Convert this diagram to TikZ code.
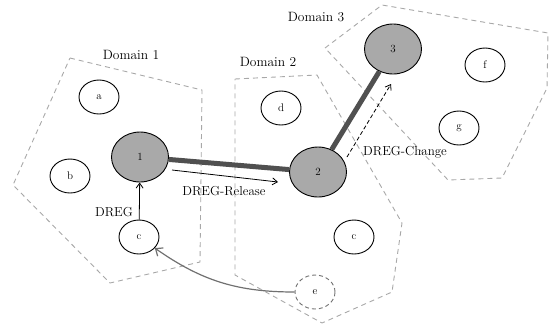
\documentclass[tikz,border=0pt]{standalone}
\usetikzlibrary{shapes.geometric,arrows.meta,calc}
\definecolor{domcol}{HTML}{A8A8A8}
\definecolor{nodefill}{HTML}{A9A9A9}
\definecolor{linkcol}{HTML}{505050}
\definecolor{movecol}{HTML}{707070}
\tikzset{
  domainedge/.style={draw=domcol, line width=0.9pt, dash pattern=on 5pt off 4pt, line join=round},
  domlabel/.style={font=\fontsize{13.5}{15}\selectfont, inner sep=0pt},
  hostnode/.style={ellipse, draw, line width=0.9pt, minimum width=40pt, minimum height=34pt, inner sep=0pt, font=\fontsize{11}{13}\selectfont},
  routernode/.style={ellipse, draw, fill=nodefill, line width=0.9pt, minimum width=57pt, minimum height=50pt, inner sep=0pt, font=\fontsize{11}{13}\selectfont},
  ghostnode/.style={hostnode, draw=movecol, dash pattern=on 4pt off 3pt},
  backbone/.style={draw=linkcol, line width=5pt},
  msgarrow/.style={-{Straight Barb[length=5pt,width=7pt]}, line width=0.8pt},
  msglabel/.style={font=\fontsize{13}{15}\selectfont, inner sep=0pt},
}
\begin{document}
\begin{tikzpicture}[x=1pt, y=-1pt]
\useasboundingbox (0,0) rectangle (553,325);

% administrative domains
\draw[domainedge] (70,58) -- (202,90) -- (200,262) -- (110,283) -- (13,185) -- cycle;
\draw[domainedge] (235,79) -- (317,75) -- (402,223) -- (392,292) -- (322,323) -- (235,275) -- cycle;
\draw[domainedge] (325,48) -- (382,5) -- (548,33) -- (547,88) -- (502,178) -- (448,180) -- cycle;

\node[domlabel] (d1) at (131,55) {Domain 1};
\node[domlabel] (d2) at (268,62) {Domain 2};
\node[domlabel] (d3) at (316,17) {Domain 3};

% routers
\node[routernode] (n1) at (140,157) {1};
\node[routernode] (n2) at (318,172) {2};
\node[routernode] (n3) at (393,49) {3};

% hosts
\node[hostnode] (a) at (99,97) {a};
\node[hostnode] (b) at (70,176) {b};
\node[hostnode] (c1) at (139,237) {c};
\node[hostnode] (d) at (281,108) {d};
\node[hostnode] (c2) at (354,237) {c};
\node[hostnode] (f) at (485,65) {f};
\node[hostnode] (g) at (459,128) {g};
\node[ghostnode] (e) at (315,292) {e};

% backbone links
\draw[backbone] (n1) -- (n2);
\draw[backbone] (n2) -- (n3);

% signalling messages
\draw[msgarrow] (c1) -- (n1);
\node[msglabel, anchor=east] (lreg) at (133,212) {DREG};

\coordinate (rs) at (172,170);
\coordinate (re) at (278,182);
\draw[msgarrow] (rs) -- (re);
\node[msglabel] (lrel) at (224,191) {DREG-Release};

\coordinate (cs) at (347,157);
\coordinate (ce) at (391,84);
\draw[msgarrow, dash pattern=on 4pt off 2.5pt] (cs) -- (ce);
\node[msglabel] (lchg) at (405,152) {DREG-Change};

% host movement
\draw[draw=movecol, line width=1.2pt, -{Straight Barb[length=6pt,width=10pt]}]
  (e) to[out=180, in=-35] (c1);
\end{tikzpicture}
\end{document}
